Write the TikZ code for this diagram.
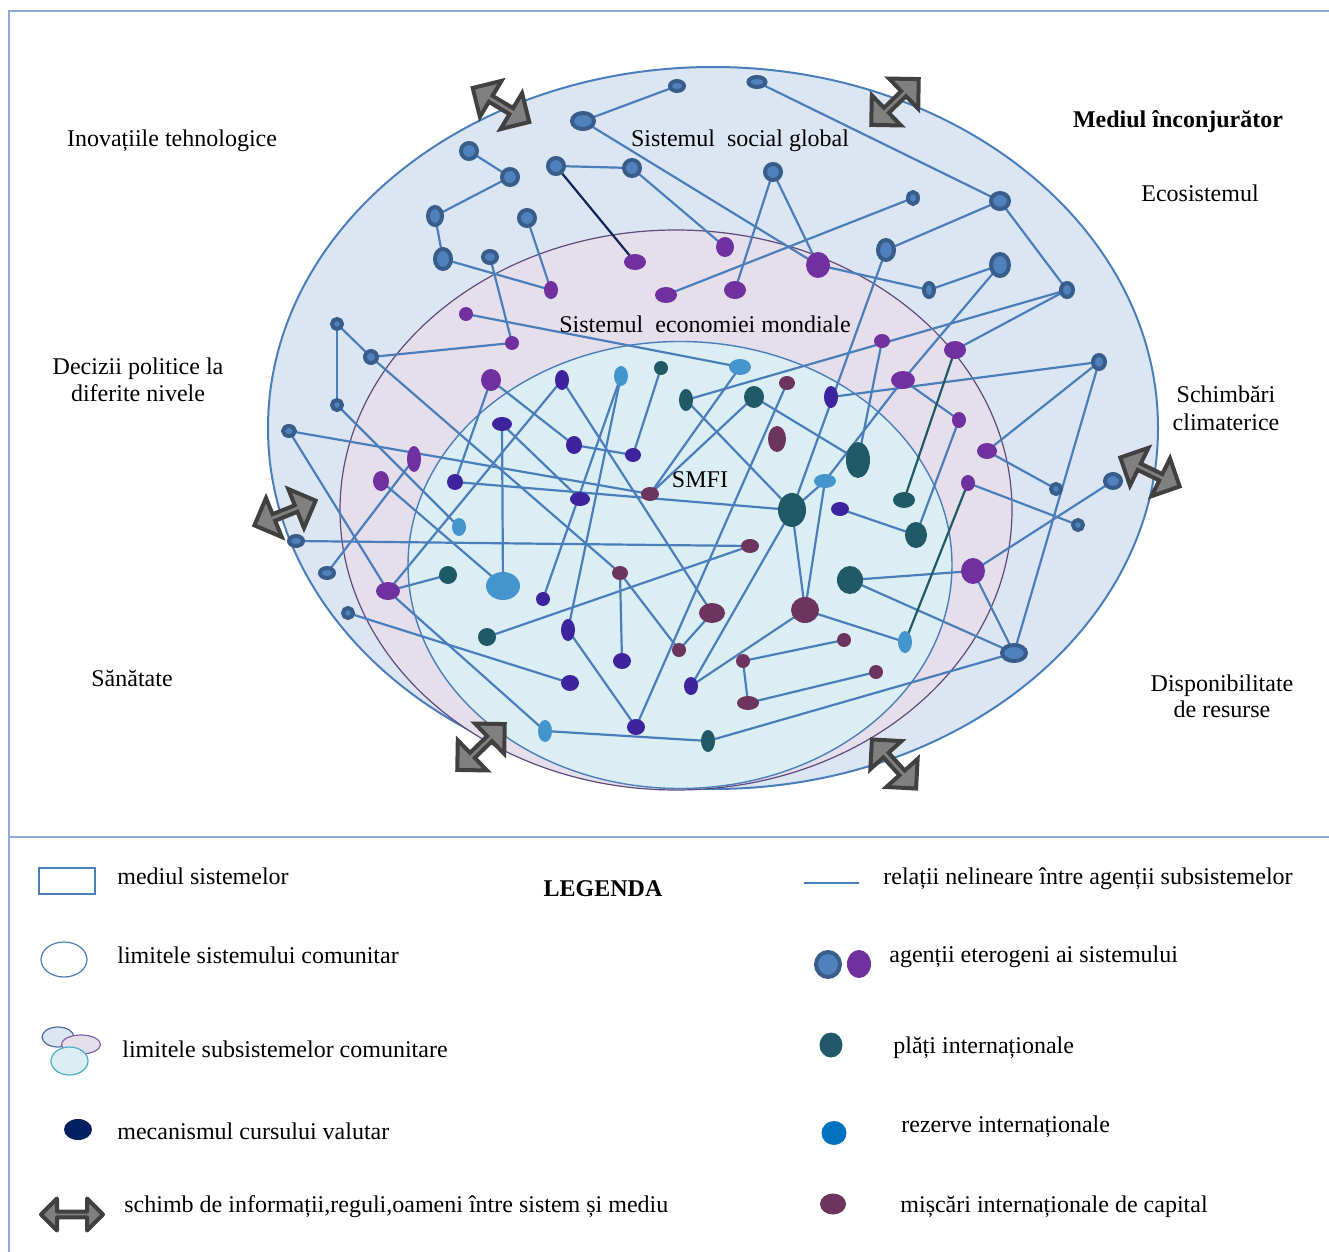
\documentclass[tikz,border=0pt]{standalone}
\usepackage{fontspec}
\setmainfont{Liberation Serif}
\usetikzlibrary{shapes.geometric,shapes.arrows}
\definecolor{framec}{HTML}{8EAADB}
\definecolor{relc}{HTML}{4A7EBB}
\definecolor{outerf}{HTML}{DCE6F2}
\definecolor{midf}{HTML}{E5DFEC}
\definecolor{midd}{HTML}{5F497A}
\definecolor{innf}{HTML}{DAEEF3}
\definecolor{ringd}{HTML}{385D8A}
\definecolor{ringl}{HTML}{4F81BD}
\definecolor{purpc}{HTML}{7030A0}
\definecolor{indgc}{HTML}{3E239E}
\definecolor{tealc}{HTML}{1F5A66}
\definecolor{lbluec}{HTML}{4495CD}
\definecolor{maroonc}{HTML}{6E3460}
\definecolor{navyc}{HTML}{0F2557}
\definecolor{navyleg}{HTML}{002060}
\definecolor{arrf}{HTML}{808080}
\definecolor{arrd}{HTML}{404040}
\definecolor{legblue}{HTML}{0070C0}
\definecolor{legteal}{HTML}{215968}
\definecolor{subblue}{HTML}{4A6FA5}
\definecolor{sublav}{HTML}{8064A2}
\definecolor{subcyan}{HTML}{4BACC6}
\pgfdeclarelayer{back}
\pgfdeclarelayer{edges}
\pgfsetlayers{back,edges,main}
\newcommand\ag[6]{\node[#1,minimum width=#5pt,minimum height=#6pt] (#2) at (#3,#4) {};}
\begin{document}
\begin{tikzpicture}[x=0.5pt,y=-0.5pt,
  agent/.style={ellipse,inner sep=0pt,outer sep=0pt},
  bA/.style={agent,draw=ringd,fill=ringl,line width=2pt},
  pA/.style={agent,fill=purpc},
  nA/.style={agent,fill=indgc},
  tA/.style={agent,fill=tealc},
  cA/.style={agent,fill=lbluec},
  mA/.style={agent,fill=maroonc},
  rel/.style={draw=relc,line width=1.1pt},
  frameline/.style={draw=framec,line width=0.9pt},
  lab/.style={font=\fontsize{12}{14}\selectfont,inner sep=0pt,anchor=base},
  labb/.style={font=\fontsize{12}{14}\selectfont\bfseries,inner sep=0pt,anchor=base},
  labl/.style={lab,anchor=base west},
  xarrow/.style={double arrow,draw=arrd,fill=arrf,line width=2pt,inner sep=0pt,
    minimum height=33pt,minimum width=21pt,double arrow head extend=5pt}
]
\useasboundingbox (0,0) rectangle (1329,1252);

% frame
\draw[frameline] (9,1252) -- (9,11) -- (1329,11);
\draw[frameline] (9,837) -- (1329,837);

% system boundaries
\begin{pgfonlayer}{back}
\node[ellipse,draw=relc,line width=1pt,fill=outerf,inner sep=0pt,minimum width=445pt,minimum height=361pt] (outerE) at (713,428) {};
\node[ellipse,draw=midd,line width=0.6pt,fill=midf,inner sep=0pt,minimum width=336pt,minimum height=280pt] (midE) at (676,510) {};
\node[ellipse,draw=relc,line width=0.7pt,fill=innf,inner sep=0pt,minimum width=272pt,minimum height=223.5pt] (innE) at (680,565) {};
\end{pgfonlayer}

% ringed agents
\ag{bA}{B1}{677}{86}{7}{5}
\ag{bA}{B2}{757}{82}{8.5}{5}
\ag{bA}{B3}{583}{121}{11}{8}
\ag{bA}{B4}{469}{151}{8}{8}
\ag{bA}{B5}{510}{177}{8}{8}
\ag{bA}{B6}{556}{166}{8}{8}
\ag{bA}{B7}{632}{168}{8}{8}
\ag{bA}{B8}{773}{172}{8}{8}
\ag{bA}{B9}{527}{218}{8}{8}
\ag{bA}{B10}{435}{216}{7}{9}
\ag{bA}{B11}{443}{259}{8}{10}
\ag{bA}{B12}{490}{257}{7}{6}
\ag{bA}{B13}{913}{198}{5}{6}
\ag{bA}{B14}{1000}{201}{9}{8}
\ag{bA}{B15}{886}{250}{8}{10}
\ag{bA}{B16}{1000}{265}{9}{11}
\ag{bA}{B17}{929}{290}{5}{7}
\ag{bA}{B18}{1067}{290}{6}{7}
\ag{bA}{B19}{1099}{362}{6}{7}
\ag{bA}{B20}{337}{324}{5}{5}
\ag{bA}{B21}{371}{357}{6}{6}
\ag{bA}{B22}{337}{405}{5}{5}
\ag{bA}{B23}{289}{431}{6}{5}
\ag{bA}{B24}{296}{541}{7}{5}
\ag{bA}{B25}{327}{573}{7}{5}
\ag{bA}{B26}{348}{613}{5}{5}
\ag{bA}{B27}{1056}{489}{5}{5}
\ag{bA}{B28}{1078}{525}{5}{5}
\ag{bA}{B29}{1113}{481}{8}{7}
\ag{bA}{B30}{1014}{653}{12}{8}

% purple agents
\ag{pA}{P1}{635}{262}{11}{8}
\ag{pA}{P2}{725}{247}{9}{10}
\ag{pA}{P3}{818}{265}{12}{13}
\ag{pA}{P4}{551}{290}{7}{9}
\ag{pA}{P5}{666}{295}{11}{8}
\ag{pA}{P6}{735}{290}{11}{9}
\ag{pA}{P7}{466}{314}{7}{7}
\ag{pA}{P8}{512}{343}{7}{7}
\ag{pA}{P9}{882}{341}{8}{7}
\ag{pA}{P10}{955}{350}{11}{9}
\ag{pA}{P11}{903}{380}{12}{9}
\ag{pA}{P12}{491}{380}{10}{11}
\ag{pA}{P13}{959}{420}{7}{8}
\ag{pA}{P14}{987}{451}{10}{8}
\ag{pA}{P15}{968}{483}{7}{8}
\ag{pA}{P16}{414}{459}{7}{13}
\ag{pA}{P17}{381}{481}{8}{10}
\ag{pA}{P18}{973}{571}{12}{13}
\ag{pA}{P19}{388}{591}{12}{9}

% exchange-rate mechanism agents
\ag{nA}{N1}{562}{380}{7}{10}
\ag{nA}{N2}{502}{424}{10}{7}
\ag{nA}{N3}{574}{445}{8}{9}
\ag{nA}{N4}{633}{455}{8}{7}
\ag{nA}{N5}{455}{482}{8}{8}
\ag{nA}{N6}{580}{499}{10}{7}
\ag{nA}{N7}{831}{397}{7}{11}
\ag{nA}{N8}{840}{509}{9}{7}
\ag{nA}{N9}{543}{599}{7}{7}
\ag{nA}{N10}{568}{630}{7}{11}
\ag{nA}{N11}{622}{661}{9}{8}
\ag{nA}{N12}{570}{683}{9}{8}
\ag{nA}{N13}{636}{727}{9}{8}
\ag{nA}{N14}{691}{686}{7}{9}

% international payments
\ag{tA}{T1}{661}{368}{7}{7}
\ag{tA}{T2}{686}{400}{7}{11}
\ag{tA}{T3}{754}{397}{10}{11}
\ag{tA}{T4}{858}{460}{12}{18}
\ag{tA}{T5}{792}{510}{14}{17}
\ag{tA}{T6}{904}{500}{11}{8}
\ag{tA}{T7}{916}{535}{11}{13}
\ag{tA}{T8}{850}{580}{13}{14}
\ag{tA}{T9}{448}{575}{9}{9}
\ag{tA}{T10}{487}{637}{9}{9}
\ag{tA}{T11}{708}{741}{7}{11}

% international reserves
\ag{cA}{C1}{621}{376}{7}{10}
\ag{cA}{C2}{740}{367}{11}{8}
\ag{cA}{C3}{825}{481}{11}{7}
\ag{cA}{C4}{459}{527}{7}{9}
\ag{cA}{C5}{503}{586}{17}{14}
\ag{cA}{C6}{545}{731}{7}{11}
\ag{cA}{C7}{905}{642}{7}{11}

% capital movements
\ag{mA}{M1}{787}{383}{8}{7}
\ag{mA}{M2}{777}{439}{9}{13}
\ag{mA}{M3}{650}{494}{9}{7}
\ag{mA}{M4}{750}{546}{9}{7}
\ag{mA}{M5}{620}{573}{8}{7}
\ag{mA}{M6}{712}{613}{13}{10}
\ag{mA}{M7}{805}{610}{14}{13}
\ag{mA}{M8}{679}{650}{7}{7}
\ag{mA}{M9}{844}{640}{7}{7}
\ag{mA}{M10}{743}{661}{7}{7}
\ag{mA}{M11}{876}{672}{7}{7}
\ag{mA}{M12}{748}{703}{11}{7}

% relations
\begin{pgfonlayer}{edges}
\foreach \a/\b in {B3/B1,B3/P3,B2/B14,B4/B5,B5/B10,B10/B11,B6/B7,B7/P2,B8/P6,B8/P3,
  B9/P4,B11/P4,B12/P8,P5/B13,P3/B17,B15/B14,B17/B16,B14/B18,B16/P11,T2/B18,B18/P10,
  B19/N7,B19/P14,B19/B30,B15/T5,P9/T4,P11/P13,P11/C3,C3/T5,P13/T7,P15/B28,P14/B27,
  B29/P18,P18/B30,P18/T8,T8/B30,B30/T11,M7/C7,T5/M7,C3/M7,M7/N14,T5/N14,M9/M10,
  M10/M12,M12/M11,C6/T11,N13/N10,N13/M1,M8/M6,M8/M5,M5/N11,N1/M6,B21/M5,T10/M4,
  B24/M4,T2/T5,T3/M3,C2/M3,T3/T4,P7/C2,T1/N4,N8/T7,N5/T5,B20/B21,B20/B22,B21/P8,
  B22/C4,P17/C5,B23/M3,B23/P19,B25/P16,B26/N12,P19/T9,P19/N1,P19/C6,P12/N5,P12/N3,
  N3/N4,N2/C5,N2/N6,C1/N9,C1/N10}
  {\draw[rel] (\a.center) -- (\b.center);}
\draw[draw=navyc,line width=1.1pt] (B6.center) -- (P1.center);
\draw[draw=tealc,line width=1.1pt] (P10.center) -- (T6.center);
\draw[draw=tealc,line width=1.1pt] (P15.center) -- (C7.center);
\end{pgfonlayer}

% exchanges with the environment
\node[xarrow,rotate=-31] (X1) at (501,105) {};
\node[xarrow,rotate=44] (X2) at (895,102) {};
\node[xarrow,rotate=22] (X3) at (285,513) {};
\node[xarrow,rotate=-26] (X4) at (1150,472) {};
\node[xarrow,rotate=44] (X5) at (481,747) {};
\node[xarrow,rotate=-48] (X6) at (894,764) {};

% labels
\node[lab] (t1) at (172,147) {Inovațiile tehnologice};
\node[lab] (t2a) at (138,374) {Decizii politice la};
\node[lab] (t2b) at (138,401) {diferite nivele};
\node[lab] (t3) at (740,147) {Sistemul\hspace{0.5em}social global};
\node[labb] (t4) at (1178,128) {Mediul înconjurător};
\node[lab] (t5) at (1200,202) {Ecosistemul};
\node[lab] (t6) at (705,332) {Sistemul\hspace{0.5em}economiei mondiale};
\node[lab] (t7a) at (1226,402) {Schimbări};
\node[lab] (t7b) at (1226,430) {climaterice};
\node[lab] (t8) at (700,487) {SMFI};
\node[lab] (t9) at (132,686) {Sănătate};
\node[lab] (t10a) at (1222,691) {Disponibilitate};
\node[lab] (t10b) at (1222,717) {de resurse};

% legend
\node[labb] (leg) at (603,896) {LEGENDA};
\node[draw=relc,line width=0.8pt,inner sep=0pt,minimum width=28pt,minimum height=13pt] (Lrect) at (67,881) {};
\node[labl] (Ltx1) at (117,884) {mediul sistemelor};
\node[ellipse,draw=relc,line width=0.6pt,inner sep=0pt,minimum width=23pt,minimum height=17.5pt] (Lcirc) at (64,959.5) {};
\node[labl] (Ltx2) at (117,963) {limitele sistemului comunitar};
\node[ellipse,draw=subblue,fill=outerf,line width=0.6pt,inner sep=0pt,minimum width=16pt,minimum height=10pt] (Lsub1) at (58,1037) {};
\node[ellipse,draw=sublav,fill=midf,line width=0.6pt,inner sep=0pt,minimum width=19.5pt,minimum height=9.5pt] (Lsub2) at (81,1044.5) {};
\node[ellipse,draw=subcyan,fill=innf,line width=0.6pt,inner sep=0pt,minimum width=18.5pt,minimum height=14pt] (Lsub3) at (69.5,1061) {};
\node[labl] (Ltx3) at (122,1057) {limitele subsistemelor comunitare};
\node[ellipse,fill=navyleg,inner sep=0pt,minimum width=14pt,minimum height=10.5pt] (Lnavy) at (78,1129.5) {};
\node[labl] (Ltx4) at (117,1139) {mecanismul cursului valutar};
\node[xarrow,minimum height=31pt,minimum width=16pt,double arrow head extend=4.5pt,line join=round] (Larr) at (72,1214.5) {};
\node[labl] (Ltx5) at (124,1212) {schimb de informații,reguli,oameni între sistem și mediu};

\coordinate (Ll1) at (804,883);
\coordinate (Ll2) at (859,883);
\draw[rel] (Ll1) -- (Ll2);
\node[labl] (Ltx6) at (883,884) {relații nelineare între agenții subsistemelor};
\ag{bA}{Lring}{828}{964.5}{12}{12.5}
\ag{pA}{Lpurp}{859}{964}{12}{14}
\node[labl] (Ltx7) at (889,962) {agenții eterogeni ai sistemului};
\node[ellipse,fill=legteal,inner sep=0pt,minimum width=11.5pt,minimum height=12.5pt] (Lteal) at (831,1045) {};
\node[labl] (Ltx8) at (893,1053) {plăți internaționale};
\node[ellipse,fill=legblue,inner sep=0pt,minimum width=12.5pt,minimum height=12pt] (Lblue) at (834,1133) {};
\node[labl] (Ltx9) at (901,1132) {rezerve internaționale};
\node[ellipse,fill=maroonc,inner sep=0pt,minimum width=13pt,minimum height=10.5pt] (Lmar) at (833,1204) {};
\node[labl] (Ltx10) at (900,1212) {mișcări internaționale de capital};
\end{tikzpicture}
\end{document}
